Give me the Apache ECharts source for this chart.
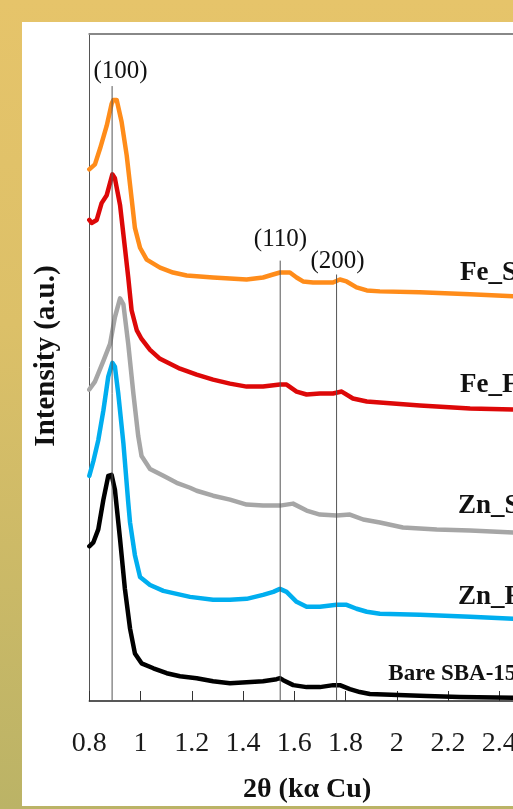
<!DOCTYPE html>
<html><head><meta charset="utf-8">
<script src="https://cdn.jsdelivr.net/npm/echarts@6/dist/echarts.min.js"></script>
<style>
html,body{margin:0;padding:0;width:513px;height:809px;overflow:hidden;}
body{background:linear-gradient(to bottom,#E6C46A 0%,#DCC068 40%,#BBB366 100%);position:relative;}
#panel{position:absolute;left:22px;top:22px;width:491px;height:784px;background:#fff;}
#chart{position:absolute;left:0;top:0;width:560px;height:809px;}
</style></head><body><div id="panel"></div><div id="chart"></div>
<script>
// 2θ (deg), intensity (a.u., offset stacked as in the figure)
var seriesNames = ['Fe_SBA-15', 'Fe_FSM-16', 'Zn_SBA-15', 'Zn_FSM-16', 'Bare SBA-15'];
var seriesColors = ['#FF8C1A', '#DD0808', '#A6A6A6', '#00AEEF', '#000000'];

var feSBA = [[0.80,536],[0.822,541],[0.842,557],[0.868,580],[0.887,602],[0.894,606],[0.907,606],[0.926,584],[0.946,550],[0.965,507],[0.978,477],[0.998,457],[1.024,445],[1.076,437],[1.127,432],[1.180,429],[1.283,427],[1.414,425],[1.478,427],[1.517,430],[1.544,432],[1.583,432],[1.609,427],[1.634,423],[1.673,422],[1.751,422],[1.778,425],[1.804,423],[1.843,417],[1.883,414],[1.934,413],[2.090,412],[2.286,410],[2.454,408],[2.50,407]];
var feFSM = [[0.80,485],[0.809,482],[0.829,485],[0.848,502],[0.868,510],[0.890,531],[0.900,527],[0.920,500],[0.939,457],[0.952,427],[0.965,394],[0.985,374],[1.004,365],[1.037,354],[1.076,345],[1.115,340],[1.154,335],[1.219,329],[1.283,324],[1.349,320],[1.414,317],[1.478,317],[1.544,319],[1.570,319],[1.609,312],[1.648,309],[1.700,310],[1.751,310],[1.785,312],[1.829,305],[1.883,302],[1.934,301],[2.090,298],[2.286,295],[2.454,294],[2.50,293]];
var znSBA = [[0.80,314],[0.822,322],[0.855,343],[0.881,360],[0.900,387],[0.920,406],[0.933,400],[0.952,360],[0.972,310],[0.991,267],[1.004,247],[1.037,234],[1.089,227],[1.141,220],[1.193,215],[1.219,212],[1.283,207],[1.349,203],[1.414,198],[1.478,197],[1.544,197],[1.595,199],[1.648,192],[1.700,188],[1.765,187],[1.817,188],[1.869,183],[1.934,180],[2.024,175],[2.156,173],[2.286,172],[2.454,170],[2.50,170]];
var znFSM = [[0.80,227],[0.816,242],[0.835,263],[0.855,293],[0.874,327],[0.890,341],[0.900,337],[0.913,310],[0.933,260],[0.952,200],[0.959,180],[0.978,147],[0.998,125],[1.037,117],[1.089,111],[1.141,108],[1.193,105],[1.283,102],[1.349,102],[1.414,103],[1.478,107],[1.518,110],[1.544,113],[1.570,110],[1.609,100],[1.648,95],[1.700,95],[1.765,97],[1.804,97],[1.843,93],[1.883,90],[1.934,88],[2.090,87],[2.286,85],[2.454,83],[2.50,83]];
var bareSBA = [[0.80,156],[0.816,160],[0.835,173],[0.855,203],[0.874,227],[0.887,228],[0.900,213],[0.920,163],[0.939,113],[0.959,73],[0.978,48],[1.004,38],[1.050,33],[1.102,28],[1.154,25],[1.219,23],[1.283,20],[1.349,18],[1.414,19],[1.478,20],[1.531,22],[1.544,23],[1.557,21],[1.596,16],[1.648,14],[1.700,14],[1.752,16],[1.778,16],[1.817,12],[1.856,9],[1.895,7],[2.117,5],[2.247,4],[2.454,3.4],[2.50,3.3]];
var allSeries = [feSBA, feFSM, znSBA, znFSM, bareSBA];

// sample label anchors [2θ, intensity]
var seriesLabelPos = [[2.247,431],[2.247,319],[2.239,197],[2.239,105],[1.967,27]];

// Bragg reflections
var peakNames = ['(100)', '(110)', '(200)'];
var peakPositions = [0.889, 1.545, 1.765];
var peakLineTops = [620, 444, 430];
var peakLabelPos = [[0.922,635],[1.546,465],[1.769,443]];

var xTicks = {min: 0.8, max: 2.5, interval: 0.2};

var serif = 'Liberation Serif, Times New Roman, serif';
var chart = echarts.init(document.getElementById('chart'), null, {renderer: 'canvas'});

var series = [];
allSeries.forEach(function (d, i) {
  series.push({
    name: seriesNames[i], type: 'line', data: d, showSymbol: false, symbol: 'none',
    lineStyle: {color: seriesColors[i], width: 4.5, join: 'round', cap: 'round'},
    smooth: false, z: 2, silent: true, clip: true
  });
});
peakPositions.forEach(function (p, i) {
  series.push({
    type: 'line', data: [[p, 0], [p, peakLineTops[i]]], symbol: 'none',
    lineStyle: {color: '#555', width: 1}, z: 3, silent: true
  });
});

chart.setOption({
  animation: false,
  backgroundColor: 'transparent',
  grid: {left: 89.3, top: 33.5, right: 35.1, bottom: 102.3, containLabel: false},
  xAxis: [{
    type: 'value', min: xTicks.min, max: xTicks.max, interval: xTicks.interval,
    axisLine: {show: true, lineStyle: {color: '#222', width: 1.5}},
    axisTick: {show: true, inside: true, length: 10, lineStyle: {color: '#333', width: 1}},
    axisLabel: {show: true, margin: 29, color: '#1a1a1a', fontFamily: serif, fontSize: 28, showMaxLabel: false},
    splitLine: {show: false},
    name: '2θ (kα Cu)', nameLocation: 'middle', nameGap: 75,
    nameTextStyle: {fontFamily: serif, fontWeight: 'bold', fontSize: 28, color: '#111'}
  }, {
    type: 'value', position: 'top', min: xTicks.min, max: xTicks.max,
    axisLine: {show: true, lineStyle: {color: '#888', width: 2}},
    axisTick: {show: false}, axisLabel: {show: false}, splitLine: {show: false}
  }],
  yAxis: {
    type: 'value', min: 0, max: 673,
    axisLine: {show: true, lineStyle: {color: '#555', width: 1}},
    axisTick: {show: false}, axisLabel: {show: false}, splitLine: {show: false}
  },
  series: series
});

// text annotations placed through the axes' own scales
var graphics = [{
  type: 'text', x: 47, y: 356, rotation: Math.PI / 2, z: 10,
  style: {text: 'Intensity (a.u.)', fontFamily: serif, fontWeight: 'bold', fontSize: 29,
    fill: '#111', align: 'center', verticalAlign: 'middle'}
}];
peakLabelPos.forEach(function (p, i) {
  var px = chart.convertToPixel({xAxisIndex: 0, yAxisIndex: 0}, p);
  graphics.push({type: 'text', x: px[0], y: px[1], z: 10,
    style: {text: peakNames[i], fontFamily: serif, fontSize: 25, fill: '#111',
      align: 'center', verticalAlign: 'middle'}});
});
seriesLabelPos.forEach(function (p, i) {
  var px = chart.convertToPixel({xAxisIndex: 0, yAxisIndex: 0}, p);
  graphics.push({type: 'text', x: px[0], y: px[1], z: 10,
    style: {text: seriesNames[i], fontFamily: serif, fontWeight: 'bold',
      fontSize: i === 4 ? 23 : 27, fill: '#111', align: 'left', verticalAlign: 'middle'}});
});
chart.setOption({graphic: graphics});
</script></body></html>
